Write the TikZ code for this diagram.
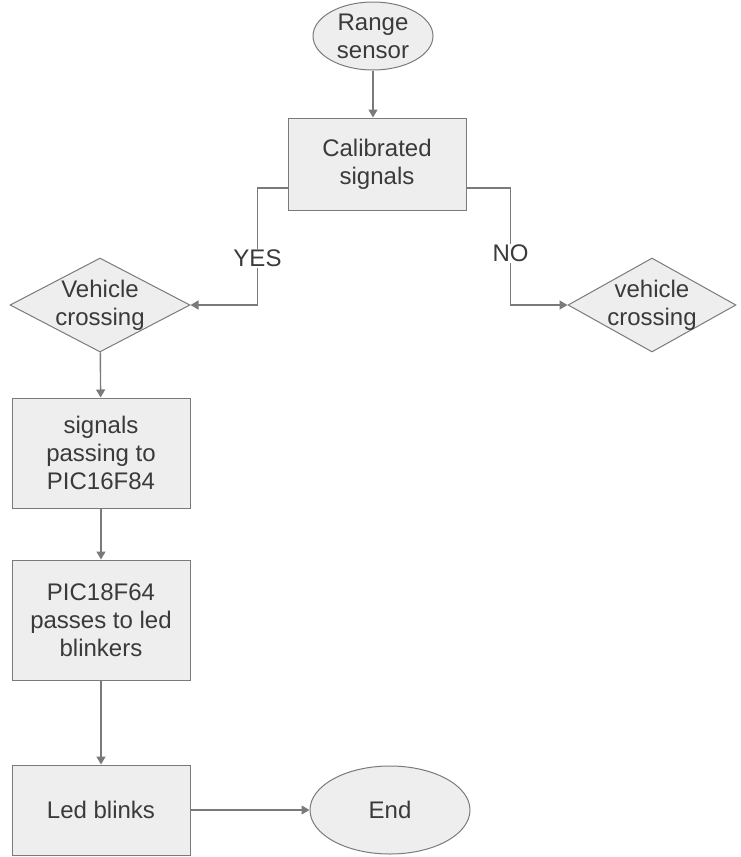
\documentclass[tikz,border=0pt]{standalone}
\usepackage{fontspec}
\setmainfont{Liberation Sans}
\usetikzlibrary{shapes.geometric,arrows.meta}

\definecolor{linegray}{HTML}{7A7A7A}
\definecolor{fillgray}{HTML}{EEEEEE}
\definecolor{textgray}{HTML}{3A3A3A}

\begin{document}
\begin{tikzpicture}[x=1pt,y=-1pt,font=\fontsize{24}{28}\selectfont,text=textgray,
  box/.style={draw=linegray,fill=fillgray,line width=1pt,minimum width=178pt,align=center,inner sep=0pt},
  term/.style={ellipse,draw=linegray,fill=fillgray,line width=1pt,align=center,inner sep=0pt},
  decide/.style={diamond,draw=linegray,fill=fillgray,line width=1pt,inner sep=0pt},
  arr/.style={draw=linegray,line width=1.4pt,-{Triangle[width=9pt,length=8pt]}},
  tag/.style={fill=white,inner sep=1pt}]
\useasboundingbox (0,0) rectangle (740,857);

\node[term,minimum width=120pt,minimum height=68pt] (range) at (373,36) {Range\\sensor};
\node[box,minimum width=178pt,minimum height=92pt] (calib) at (377,164) {Calibrated\\signals};
\node[decide,minimum width=180pt,minimum height=94pt,label={[align=center]center:Vehicle\\crossing}] (vehyes) at (100,305) {};
\node[decide,minimum width=168pt,minimum height=94pt,label={[align=center]center:vehicle\\crossing}] (vehno) at (652,305) {};
\node[box,minimum height=110pt] (pass) at (101,453) {signals\\passing to\\PIC16F84};
\node[box,minimum height=120pt] (pic) at (101,620) {PIC18F64\\passes to led\\blinkers};
\node[box,minimum height=90pt] (blink) at (101,810) {Led blinks};
\node[term,minimum width=160pt,minimum height=88pt] (end) at (390,810) {End};

% connectors
\draw[arr] (range) -- (range |- calib.north);
\draw[arr] ([yshift=-24pt]calib.west) -- ++(-30,0) |- (vehyes.east) node[pos=0.3,tag]{YES};
\draw[arr] ([yshift=-24pt]calib.east) -- ++(44,0) |- (vehno.west) node[pos=0.28,tag]{NO};
\draw[arr] (vehyes) -- (pass);
\draw[arr] (pass) -- (pic);
\draw[arr] (pic) -- (blink);
\draw[arr] (blink) -- (end);

\end{tikzpicture}
\end{document}
